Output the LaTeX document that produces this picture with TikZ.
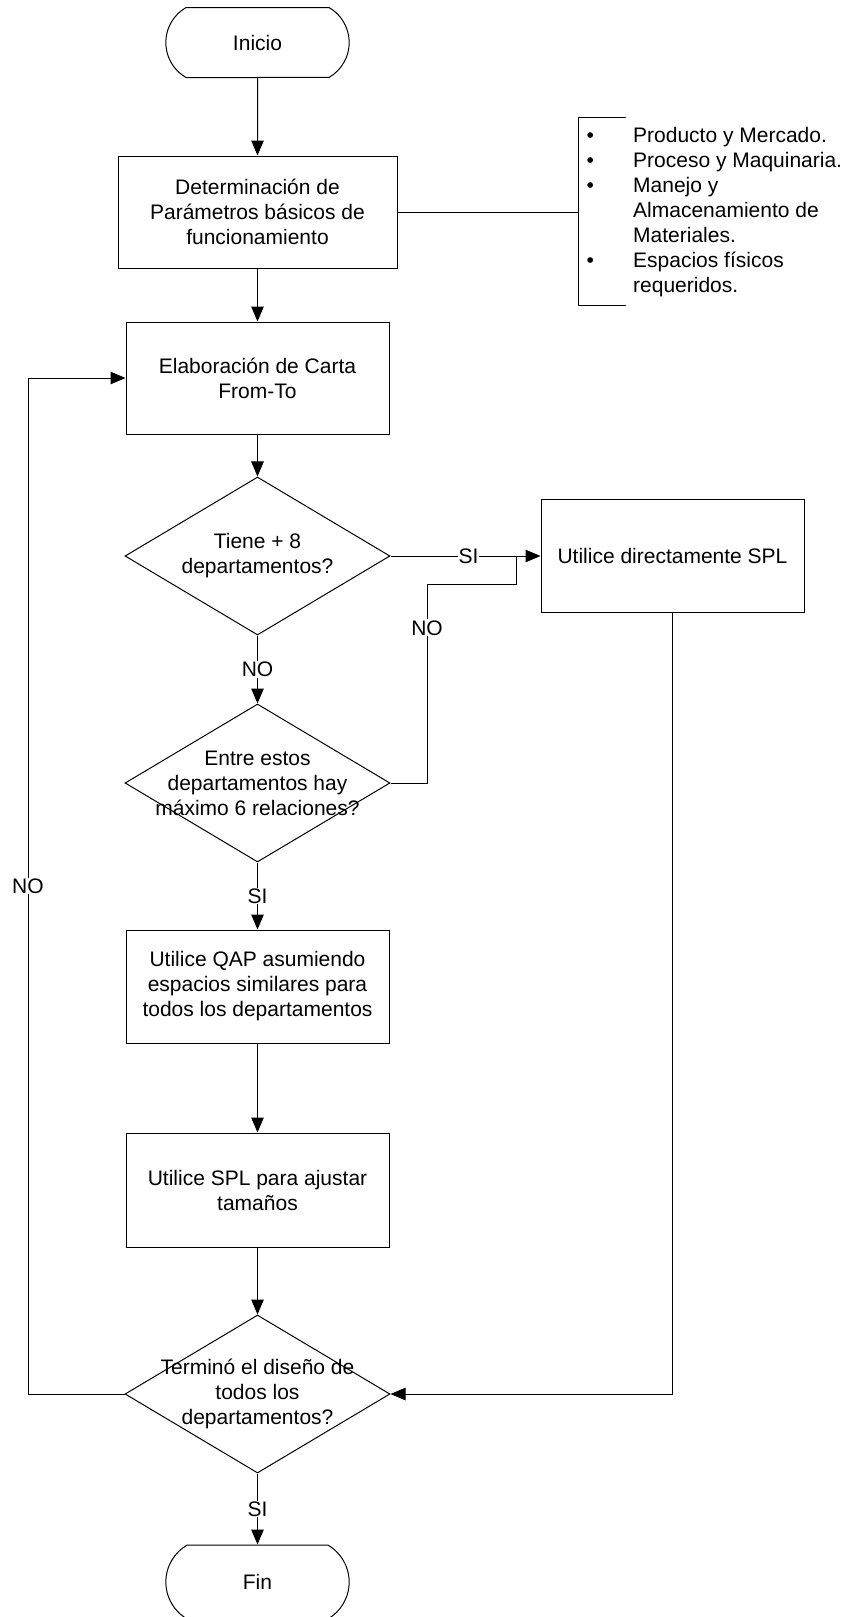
\documentclass[tikz,border=0pt]{standalone}
\usepackage{fontspec}
\setmainfont{Liberation Sans}
\usetikzlibrary{arrows.meta, positioning, shapes.geometric, shapes.misc}
\tikzset{
	terminal/.style={rounded rectangle, rounded rectangle arc length=120, draw, line width=1pt, minimum width=190pt, minimum height=70pt, font=\fontsize{21}{25}\selectfont},
	process/.style={rectangle, draw, line width=1pt, align=center, minimum width=263pt, minimum height=113pt, font=\fontsize{21}{25}\selectfont},
	decision/.style={diamond, draw, line width=1pt, minimum width=265pt, minimum height=158pt, inner sep=0pt},
	qtext/.style={align=center, inner sep=0pt, font=\fontsize{21}{25}\selectfont},
	tag/.style={fill=white, inner sep=1pt, font=\fontsize{21}{25}\selectfont},
	arrow/.style={-{Triangle[length=15pt, width=12.5pt]}, line width=1pt},
	link/.style={line width=1pt},
}

\begin{document}
\begin{tikzpicture}[x=1pt, y=-1pt]
	\useasboundingbox (0,0) rectangle (846,1617);
	% main column
	\node[terminal] (inicio) at (257.5,42.5) {Inicio};
	\node[process, minimum width=279pt, minimum height=112pt] (param) at (257.5,212) {Determinación de\\Parámetros básicos de\\funcionamiento};
	\node[process, minimum height=112pt] (carta) at (257.5,378) {Elaboración de Carta\\From-To};
	\node[decision] (d1) at (257.5,556) {};
	\node[qtext] (d1t) at (d1) {Tiene + 8\\departamentos?};
	\node[process] (spl) at (672.5,556) {Utilice directamente SPL};
	\node[decision] (d2) at (257.5,783) {};
	\node[qtext] (d2t) at (d2) {Entre estos\\departamentos hay\\máximo 6 relaciones?};
	\node[process] (qap) at (257.5,986.5) {Utilice QAP asumiendo\\espacios similares para\\todos los departamentos};
	\node[process, minimum height=114pt] (ajuste) at (257.5,1190) {Utilice SPL para ajustar\\tamaños};
	\node[decision] (d3) at (257.5,1394) {};
	\node[qtext] (d3t) at (d3) {Terminó el diseño de\\todos los\\departamentos?};
	\node[terminal, minimum height=74pt] (fin) at (257.5,1582) {Fin};
	% bullet list
	\node[anchor=north west, inner sep=0pt, font=\fontsize{21}{25}\selectfont] (lista) at (586.5,124.5) {%
		\begin{tabular}{@{}p{46.5pt}@{}l@{}}
			\textbullet & Producto y Mercado.\\
			\textbullet & Proceso y Maquinaria.\\
			\textbullet & Manejo y\\
			& Almacenamiento de\\
			& Materiales.\\
			\textbullet & Espacios físicos\\
			& requeridos.
		\end{tabular}};
	\coordinate (bt) at (578,117);
	\coordinate (bb) at (578,305);
	\coordinate (btend) at (626,117);
	\coordinate (bbend) at (626,305);
	\draw[link] (btend) -- (bt) -- (bb) -- (bbend);
	\draw[link] (param.east) -- (param.east -| bt);
	% connectors
	\draw[arrow] (inicio) -- (param);
	\draw[arrow] (param) -- (carta);
	\draw[arrow] (carta) -- (d1);
	\draw[arrow] (d1.south) -- node[tag]{NO} (d2.north);
	\draw[arrow] (d2.south) -- node[tag]{SI} (qap.north);
	\draw[arrow] (qap) -- (ajuste);
	\draw[arrow] (ajuste) -- (d3);
	\draw[arrow] (d3.south) -- node[tag]{SI} (fin.north);
	\draw[arrow] (d1.east) -- node[tag, pos=0.52]{SI} (spl.west);
	\coordinate (nox) at (427,584);
	\coordinate (jn) at (516,556);
	\draw[link] (d2.east) -| node[tag, pos=0.89]{NO} (nox) -- (nox -| jn) -- (jn);
	\draw[arrow] (spl.south) |- (d3.east);
	\coordinate (loopx) at (28,1394);
	\draw[arrow] (d3.west) -- (loopx) |- node[tag, pos=0.25]{NO} (carta.west);
\end{tikzpicture}
\end{document}
